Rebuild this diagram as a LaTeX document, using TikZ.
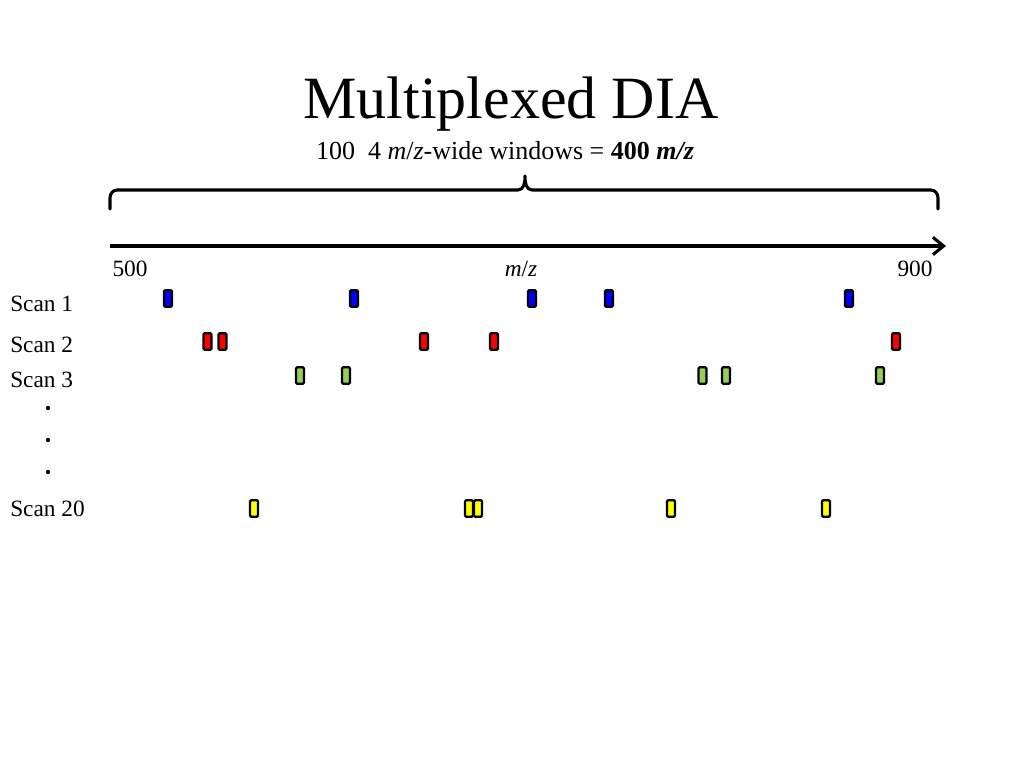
\documentclass[tikz,border=0pt]{standalone}
\usepackage{fontspec}
\setmainfont{Liberation Serif}
\usetikzlibrary{arrows.meta}
\definecolor{pkblue}{RGB}{0,0,255}
\definecolor{pkred}{RGB}{255,0,0}
\definecolor{pkgreen}{RGB}{146,208,80}
\definecolor{pkyellow}{RGB}{255,255,0}
\tikzset{
  peak/.style={draw=black, line width=1.7pt, rounded corners=1pt, minimum width=6pt, minimum height=12.5pt, inner sep=0pt},
  lbl/.style={font=\fontsize{17.5}{20}\selectfont, inner sep=0pt},
  thick line/.style={line width=2.3pt, line cap=round, line join=round}
}
\begin{document}
\begin{tikzpicture}[x=0.75pt,y=-0.75pt]
\useasboundingbox (0,0) rectangle (1024,768);
% title
\node[inner sep=0pt, anchor=base, font=\fontsize{45}{50}\selectfont] (title) at (511,118) {Multiplexed DIA};
\node[inner sep=0pt, anchor=base, font=\fontsize{19.5}{22}\selectfont] (sub) at (505,159) {100\ \ 4 \textit{m}/\textit{z}-wide windows = \textbf{400 \textit{m/z}}};
% brace
\coordinate (bl) at (110,209);
\coordinate (br) at (938,209);
\coordinate (btip) at (525,176);
\draw[thick line] (bl) -- (110,198) to[out=90,in=180] (117,190) -- (518,190) to[out=0,in=-90] (btip)
  to[out=-90,in=180] (532,190) -- (931,190) to[out=0,in=90] (938,198) -- (br);
% axis
\coordinate (a0) at (110,246);
\coordinate (a1) at (946,246);
\draw[line width=2.3pt, -{Straight Barb[length=8pt,width=13pt,line width=2.3pt]}] (a0) -- (a1);
\node[lbl, anchor=base] (l500) at (130,276) {500};
\node[lbl, anchor=base] (lmz) at (521,276) {\textit{m}/\textit{z}};
\node[lbl, anchor=base] (l900) at (915,276) {900};
% scan labels
\node[lbl, anchor=base west] (scan1) at (10,311) {Scan 1};
\node[lbl, anchor=base west] (scan2) at (10,352) {Scan 2};
\node[lbl, anchor=base west] (scan3) at (10,387) {Scan 3};
\node[lbl, anchor=base west] (scan20) at (10,516) {Scan 20};
\foreach \y in {408,440,472} \fill (48,\y) circle (1.6pt);
% peaks
\foreach \x [count=\i] in {168,354,532,609,849} \node[peak, fill=pkblue] (b\i) at (\x,298.5) {};
\foreach \x [count=\i] in {207.5,222.5,424,494,896} \node[peak, fill=pkred] (r\i) at (\x,341.5) {};
\foreach \x [count=\i] in {300,346,702.5,726,880} \node[peak, fill=pkgreen] (g\i) at (\x,375.5) {};
\foreach \x [count=\i] in {254,469,478,671,826} \node[peak, fill=pkyellow] (y\i) at (\x,508.5) {};
\end{tikzpicture}
\end{document}
